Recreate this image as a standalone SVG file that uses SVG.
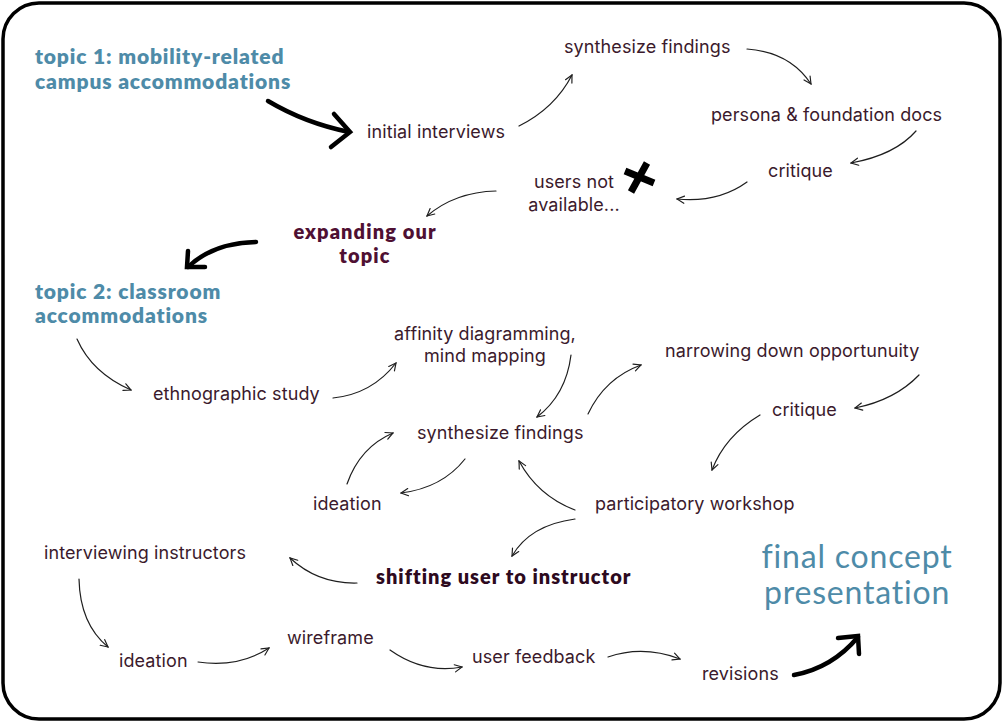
<svg xmlns="http://www.w3.org/2000/svg" width="1003" height="722" viewBox="0 0 1003 722">
<style>
.t{font-family:Inter,"Noto Sans",sans-serif;font-size:18px;letter-spacing:0.1px;fill:#3b1a2c}
.h{font-family:Lato,"Open Sans",sans-serif;font-weight:800;font-size:21px;letter-spacing:0.85px;fill:#4e8ba8}
.b{font-family:Lato,"Open Sans",sans-serif;font-weight:800;font-size:20px;letter-spacing:1.1px;fill:#4f1033}
.s{font-family:Lato,"Open Sans",sans-serif;font-weight:800;font-size:20px;letter-spacing:1px;fill:#2d0a1e}
.f{font-family:Lato,"Open Sans",sans-serif;font-size:32px;letter-spacing:0.8px;fill:#4e8ba8}
.c{fill:none;stroke:#1e1e1e;stroke-width:1.2;stroke-linecap:round;marker-end:url(#a)}
.k{fill:none;stroke:#000;stroke-width:4.5;stroke-linecap:round}
</style>
<defs>
<marker id="a" viewBox="0 0 10 10" refX="9" refY="5" markerWidth="9" markerHeight="9" markerUnits="userSpaceOnUse" orient="auto">
<path d="M1,1 L9,5 L1,9" fill="none" stroke="#1e1e1e" stroke-width="1.3" stroke-linecap="round"/>
</marker>
</defs>
<rect x="3" y="3" width="997" height="716" rx="36" fill="#fff" stroke="#000" stroke-width="3.5"/>
<g id="connectors">
<path class="c" d="M519,126 Q555,108 572,75"/>
<path class="c" d="M747,49 Q790,52 811,84"/>
<path class="c" d="M916,131 Q895,155 851,163"/>
<path class="c" d="M747,182 Q718,203 677,199"/>
<path class="c" d="M496,191 Q455,192 427,216"/>
<path class="c" d="M77,339 Q92,373 131,390"/>
<path class="c" d="M333,398 Q372,394 396,363"/>
<path class="c" d="M571,355 Q566,395 537,417"/>
<path class="c" d="M588,414 Q605,378 641,365"/>
<path class="c" d="M919,375 Q895,400 855,408"/>
<path class="c" d="M760,415 Q725,436 712,470"/>
<path class="c" d="M575,510 Q538,496 519,461"/>
<path class="c" d="M465,459 Q442,488 401,493"/>
<path class="c" d="M347,484 Q360,447 393,433"/>
<path class="c" d="M575,519 Q530,525 512,556"/>
<path class="c" d="M357,583 Q318,584 290,558"/>
<path class="c" d="M79,579 Q80,624 108,647"/>
<path class="c" d="M198,662 Q238,668 269,648"/>
<path class="c" d="M390,650 Q424,674 462,667"/>
<path class="c" d="M608,657 Q643,645 680,659"/>
<path class="k" d="M268,101 Q305,123 349,132"/>
<path class="k" d="M334,114 L350,132 L331,147"/>
<path class="k" d="M256,242 Q213,243 188,267"/>
<path class="k" d="M188,251 L187,267 L205,267"/>
<path class="k" d="M794,675 Q832,668 858,637"/>
<path class="k" d="M838,638 L858,636 L859,654"/>
</g>
<g id="n-topic1"><text class="h" x="35" y="64">topic 1: mobility-related</text><text class="h" x="35" y="89">campus accommodations</text></g>
<g id="n-initial"><text class="t" x="367" y="138">initial interviews</text></g>
<g id="n-synth1"><text class="t" x="564" y="53">synthesize findings</text></g>
<g id="n-persona"><text class="t" x="711" y="121">persona &amp; foundation docs</text></g>
<g id="n-critique1"><text class="t" x="768" y="177">critique</text></g>
<g id="n-users"><text class="t" x="574" y="188" text-anchor="middle">users not</text><text class="t" x="574" y="211" text-anchor="middle">available...</text>
<path d="M625,171 L654,183 M647,163 L631,192" stroke="#000" stroke-width="7" stroke-linecap="butt"/></g>
<g id="n-expanding"><text class="b" x="365" y="239" text-anchor="middle">expanding our</text><text class="b" x="365" y="263" text-anchor="middle">topic</text></g>
<g id="n-topic2"><text class="h" x="35" y="299">topic 2: classroom</text><text class="h" x="35" y="323">accommodations</text></g>
<g id="n-ethno"><text class="t" x="153" y="400">ethnographic study</text></g>
<g id="n-affinity"><text class="t" x="485" y="340" text-anchor="middle">affinity diagramming,</text><text class="t" x="485" y="362" text-anchor="middle">mind mapping</text></g>
<g id="n-narrow"><text class="t" x="665" y="357">narrowing down opportunuity</text></g>
<g id="n-critique2"><text class="t" x="772" y="416">critique</text></g>
<g id="n-synth2"><text class="t" x="417" y="439">synthesize findings</text></g>
<g id="n-ideation1"><text class="t" x="313" y="510">ideation</text></g>
<g id="n-workshop"><text class="t" x="595" y="510">participatory workshop</text></g>
<g id="n-interviewing"><text class="t" x="44" y="559">interviewing instructors</text></g>
<g id="n-shifting"><text class="s" x="376" y="584">shifting user to instructor</text></g>
<g id="n-final"><text class="f" x="857" y="568" text-anchor="middle">final concept</text><text class="f" x="857" y="604" text-anchor="middle">presentation</text></g>
<g id="n-ideation2"><text class="t" x="119" y="667">ideation</text></g>
<g id="n-wireframe"><text class="t" x="287" y="644">wireframe</text></g>
<g id="n-feedback"><text class="t" x="472" y="663">user feedback</text></g>
<g id="n-revisions"><text class="t" x="702" y="680">revisions</text></g>
</svg>
